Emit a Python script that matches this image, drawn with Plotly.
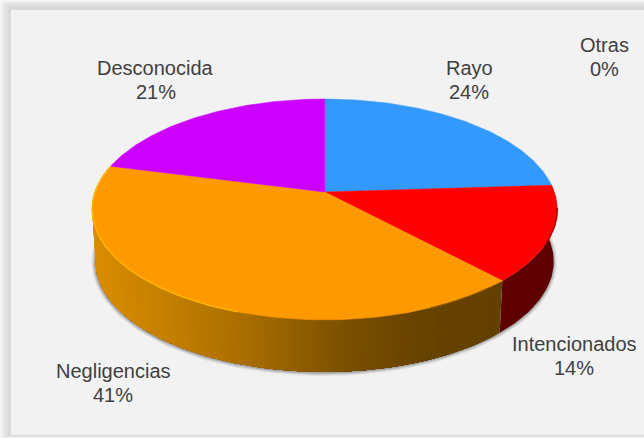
import math
import plotly.graph_objects as go

categories = ["Rayo", "Intencionados", "Negligencias", "Desconocida", "Otras"]
values = [24, 14, 41, 21, 0]
colors = ["#3399FF", "#FF0000", "#FF9900", "#CC00FF", "#7F7F7F"]
label_x = [469, 574, 113, 155.5, 604]
label_y = [68, 344, 371, 68, 45]

WIDTH, HEIGHT = 644, 438
CX, CY, RX, RY, K, DEPTH = 324.7, 192, 229.6, 107.7, 0.158, 52
BOTTOM_SCALE = 0.985

# colour stops of the orange side wall, by x pixel
orange_stops = [(90, (218, 141, 0)), (170, (196, 127, 0)), (250, (168, 109, 0)),
                (350, (122, 79, 0)), (430, (102, 66, 0)), (510, (100, 64, 0))]


def project(deg, bottom=False):
    a = math.radians(deg)
    u, v = math.sin(a), math.cos(a)
    d = 1 + K * v
    x = RX * u / d
    y = -RY * v / d
    if bottom:
        return CX + x * BOTTOM_SCALE, CY + y + DEPTH
    return CX + x, CY + y


def arc(a0, a1, bottom=False, step=1.0):
    n = max(2, int(abs(a1 - a0) / step) + 1)
    pts = [project(a0 + (a1 - a0) * i / (n - 1), bottom) for i in range(n)]
    return [p[0] for p in pts], [p[1] for p in pts]


def grad(x):
    if x <= orange_stops[0][0]:
        return orange_stops[0][1]
    for (x0, c0), (x1, c1) in zip(orange_stops, orange_stops[1:]):
        if x <= x1:
            t = (x - x0) / (x1 - x0)
            return tuple(round(c0[i] + (c1[i] - c0[i]) * t) for i in range(3))
    return orange_stops[-1][1]


fig = go.Figure()


def poly(xs, ys, fill, line=None, width=0):
    fig.add_trace(go.Scatter(x=xs, y=ys, mode="lines", fill="toself", fillcolor=fill,
                             line=dict(color=line or fill, width=width),
                             hoverinfo="skip", showlegend=False))


def stroke(xs, ys, color, width):
    fig.add_trace(go.Scatter(x=xs, y=ys, mode="lines", line=dict(color=color, width=width),
                             hoverinfo="skip", showlegend=False))


total = sum(values)
edges = [0]
for v in values:
    edges.append(edges[-1] + 360 * v / total)

# soft shadow beneath the lower rim
sx, sy = arc(75, 288, bottom=True)
for w, a in [(8, 0.05), (6, 0.07), (4, 0.1), (2, 0.14)]:
    stroke([x - 0.5 for x in sx], [y + 0.5 for y in sy], f"rgba(0,0,0,{a})", w)

# side walls: each band repaints everything from its start to the slice end, so no seams appear
for i, cat in enumerate(categories):
    a0, a1 = edges[i], edges[i + 1]
    if cat == "Intencionados":
        xt, yt = arc(a0, a1)
        xb, yb = arc(a0, a1, bottom=True)
        poly(xt + xb[::-1], yt + yb[::-1], "#5E0000")
    elif cat == "Negligencias":
        d = a0
        while d < a1:
            xt, yt = arc(d, a1)
            xb, yb = arc(d, a1, bottom=True)
            r, g, b = grad(project(d)[0])
            poly(xt + xb[::-1], yt + yb[::-1], f"rgb({r},{g},{b})")
            d += 1.0

# top faces
for i, cat in enumerate(categories):
    if values[i] == 0:
        continue
    xs, ys = arc(edges[i], edges[i + 1])
    poly([CX] + xs + [CX], [CY] + ys + [CY], colors[i], width=0.5)

# bevel highlights along the edge of the top face
xr, yr = arc(edges[2] + 62, edges[3])
stroke(xr, yr, "#FFB400", 1.5)
xr, yr = arc(edges[1] + 12, edges[2] - 20)
stroke(xr, yr, "#B00000", 1.5)
xr, yr = arc(edges[2] + 4, edges[2] + 20)
stroke(xr, yr, "#8A5A00", 1)

annotations = []
for i, cat in enumerate(categories):
    for text, dy in [(cat, 0), (f"{round(values[i] / total * 100)}%", 24)]:
        annotations.append(dict(x=label_x[i], y=label_y[i] + dy, text=text, showarrow=False,
                                xanchor="center", yanchor="middle",
                                font=dict(family="Liberation Sans", size=20, color="#404040")))

shapes = []
frame = [(0, 0, "#F4F4F4"), (2, 2, "#EBEBEB"), (4, 3, "#E4E4E4"), (6, 5, "#DEDEDE"), (8, 7, "#D9D9D9")]
for px, py, c in frame:
    shapes.append(dict(type="rect", layer="below", xref="x", yref="y", x0=px, y0=py, x1=WIDTH + 5,
                       y1=HEIGHT - py / 3, fillcolor=c, line=dict(width=0)))
shapes.append(dict(type="rect", layer="below", xref="x", yref="y", x0=11, y0=10, x1=WIDTH + 5,
                   y1=435, fillcolor="#F2F2F2", line=dict(width=0)))

fig.update_layout(
    width=WIDTH, height=HEIGHT, autosize=False,
    margin=dict(l=0, r=0, t=0, b=0),
    paper_bgcolor="#F2F2F2", plot_bgcolor="#F2F2F2",
    xaxis=dict(range=[0, WIDTH], visible=False, fixedrange=True),
    yaxis=dict(range=[HEIGHT, 0], visible=False, fixedrange=True),
    shapes=shapes, annotations=annotations, showlegend=False,
)
fig.write_html("out.html", config={"displayModeBar": False},
               post_script="document.body.style.margin='0';document.body.style.overflow='hidden';")
